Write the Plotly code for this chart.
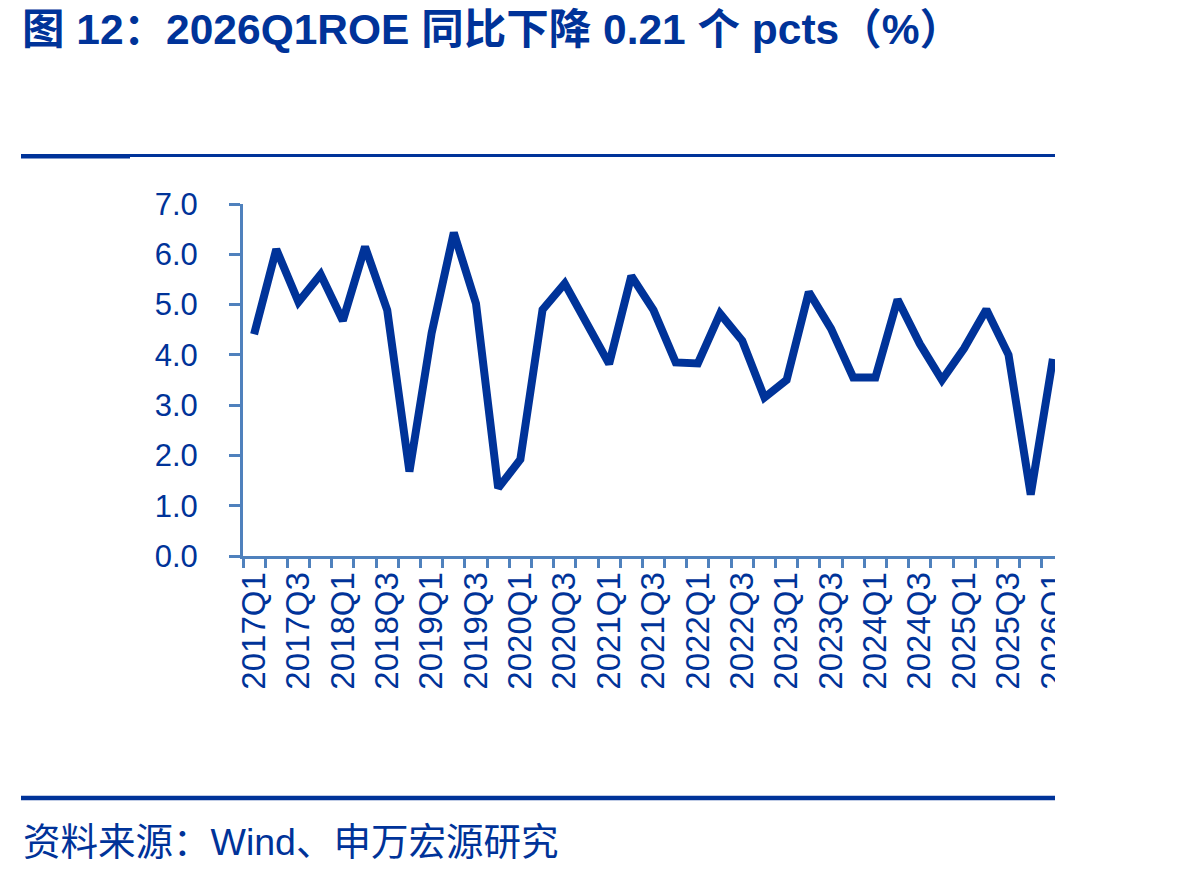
import plotly.graph_objects as go

quarters = [
    "2017Q1", "2017Q2", "2017Q3", "2017Q4",
    "2018Q1", "2018Q2", "2018Q3", "2018Q4",
    "2019Q1", "2019Q2", "2019Q3", "2019Q4",
    "2020Q1", "2020Q2", "2020Q3", "2020Q4",
    "2021Q1", "2021Q2", "2021Q3", "2021Q4",
    "2022Q1", "2022Q2", "2022Q3", "2022Q4",
    "2023Q1", "2023Q2", "2023Q3", "2023Q4",
    "2024Q1", "2024Q2", "2024Q3", "2024Q4",
    "2025Q1", "2025Q2", "2025Q3", "2025Q4",
    "2026Q1",
]
roe = [
    4.41, 6.10, 5.05, 5.60,
    4.68, 6.15, 4.89, 1.68,
    4.43, 6.43, 5.02, 1.35,
    1.92, 4.90, 5.42, 4.63,
    3.82, 5.57, 4.89, 3.85,
    3.83, 4.82, 4.28, 3.15,
    3.50, 5.25, 4.52, 3.55,
    3.55, 5.10, 4.22, 3.50,
    4.13, 4.90, 4.00, 1.22,
    3.92,
]
tick_text = [q if i % 2 == 0 else "" for i, q in enumerate(quarters)]
y_ticks = [0, 1, 2, 3, 4, 5, 6, 7]

title_text = "图 12：2026Q1ROE 同比下降 0.21 个 pcts（%）"
source_text = "资料来源：Wind、申万宏源研究"

W, H = 1192, 874
L, R, T, B = 243, 128, 204, 318
PW = W - L - R
PH = H - T - B

def px_x(px):
    return (px - L) / PW

def px_y(py):
    return (H - B - py) / PH

DARK = "#003399"
AXIS = "#4F81BD"
FONT = "Liberation Sans, Arial, Noto Sans CJK SC, sans-serif"

fig = go.Figure()
fig.add_trace(go.Scatter(
    x=quarters, y=roe, mode="lines",
    line=dict(color=DARK, width=8),
    cliponaxis=False,
    showlegend=False,
))

fig.update_layout(
    width=W, height=H,
    margin=dict(l=L, r=R, t=T, b=B, pad=0),
    paper_bgcolor="white", plot_bgcolor="white",
    font=dict(family=FONT, color=DARK),
    title=dict(
        text="<b>" + title_text + "</b>",
        x=22 / W, xref="container", xanchor="left",
        y=1 - 29 / H, yref="container", yanchor="middle",
        font=dict(size=42.5, color=DARK, family=FONT),
    ),
    xaxis=dict(
        type="category",
        tickmode="array", tickvals=quarters, ticktext=tick_text,
        tickson="boundaries",
        range=[-0.5, len(quarters) - 0.5],
        showline=True, linecolor=AXIS, linewidth=3,
        ticks="outside", ticklen=9, tickwidth=3, tickcolor=AXIS,
        tickangle=-90,
        tickfont=dict(size=33, color=DARK, family=FONT),
        ticklabelstandoff=0,
        showgrid=False, zeroline=False,
    ),
    yaxis=dict(
        range=[0, 7],
        tickmode="array", tickvals=y_ticks,
        tickformat=".1f",
        showline=True, linecolor=AXIS, linewidth=3,
        ticks="outside", ticklen=11, tickwidth=3, tickcolor=AXIS,
        tickfont=dict(size=31, color=DARK, family=FONT),
        ticklabelstandoff=25,
        showgrid=False, zeroline=False,
    ),
)

shapes = [
    # top rule
    dict(type="line", xref="paper", yref="paper",
         x0=px_x(21), x1=px_x(1055), y0=px_y(155.5), y1=px_y(155.5),
         line=dict(color=DARK, width=3), layer="above"),
    dict(type="line", xref="paper", yref="paper",
         x0=px_x(21), x1=px_x(130), y0=px_y(156.3), y1=px_y(156.3),
         line=dict(color=DARK, width=4.5), layer="above"),
    # bottom rule
    dict(type="line", xref="paper", yref="paper",
         x0=px_x(21), x1=px_x(1055), y0=px_y(798), y1=px_y(798),
         line=dict(color=DARK, width=4.5), layer="above"),
    # crop mask on the right edge
    dict(type="rect", xref="paper", yref="paper",
         x0=px_x(1055), x1=px_x(W + 20), y0=px_y(H + 20), y1=px_y(-20),
         fillcolor="white", line=dict(width=0), layer="above"),
]
fig.update_layout(shapes=shapes)

fig.add_annotation(
    text=source_text, xref="paper", yref="paper",
    x=px_x(21), y=px_y(842), xanchor="left", yanchor="middle",
    showarrow=False, font=dict(size=37.5, color=DARK, family=FONT),
)

fig.write_html("out.html")
